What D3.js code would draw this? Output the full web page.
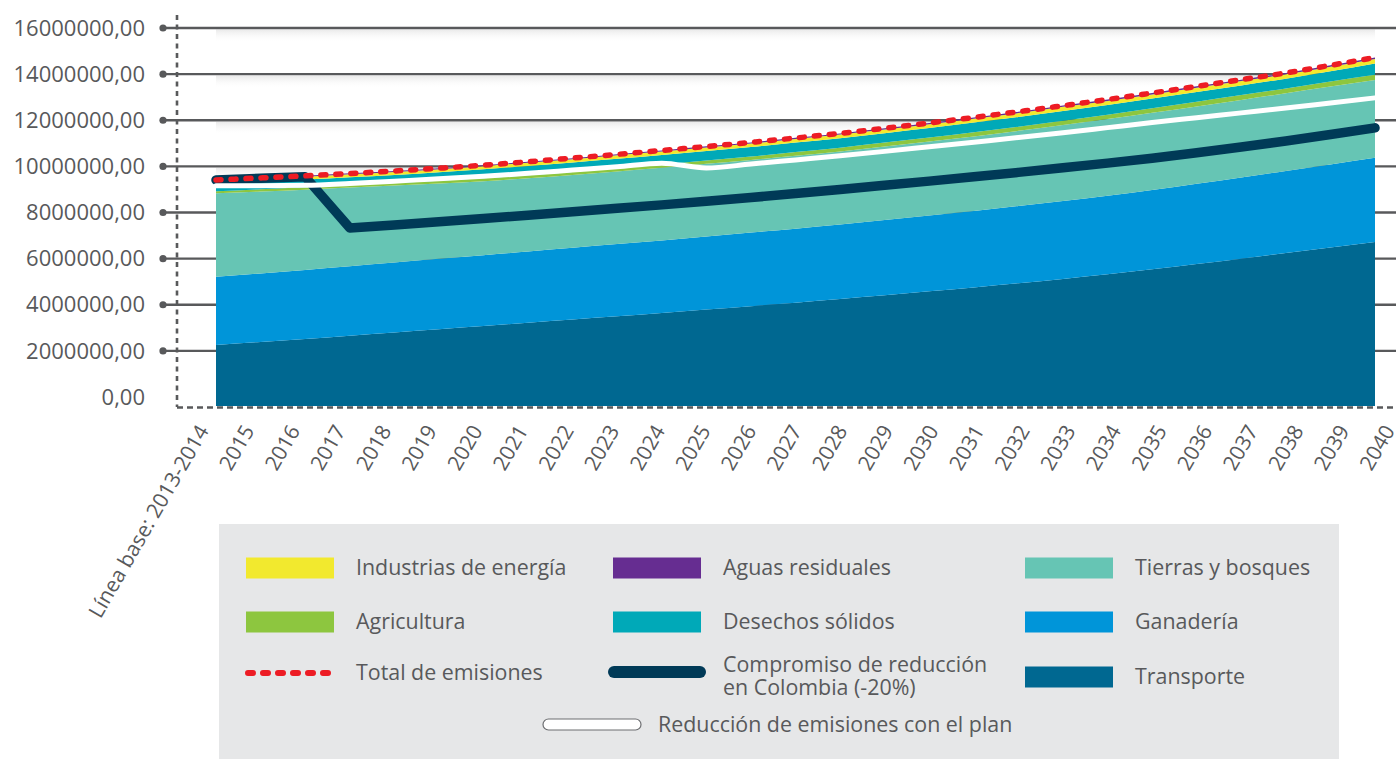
<!DOCTYPE html>
<html><head><meta charset="utf-8">
<script src="https://cdn.jsdelivr.net/npm/d3@7"></script>
<style>
html,body{margin:0;padding:0;background:#fff;}
svg{display:block;font-family:"Open Sans",sans-serif;}
</style></head><body>
<svg id="chart" width="1396" height="759"></svg>
<script>
// ---------- DATA (values in millions of tCO2e) ----------
const categories = ["Línea base: 2013-2014","2015","2016","2017","2018","2019","2020","2021","2022","2023","2024","2025","2026","2027","2028","2029","2030","2031","2032","2033","2034","2035","2036","2037","2038","2039","2040"];
const transporte  = [2.26,2.39,2.52,2.66,2.80,2.94,3.08,3.22,3.36,3.50,3.64,3.79,3.94,4.09,4.25,4.41,4.58,4.75,4.93,5.12,5.32,5.54,5.77,6.00,6.24,6.48,6.72];
const ganaderia   = [2.95,2.97,2.99,3.01,3.03,3.05,3.07,3.09,3.11,3.13,3.15,3.17,3.19,3.21,3.23,3.26,3.29,3.32,3.35,3.38,3.41,3.44,3.48,3.52,3.56,3.60,3.65];
const tierras     = [3.62,3.55,3.48,3.41,3.34,3.27,3.21,3.18,3.16,3.15,3.15,3.15,3.15,3.16,3.17,3.19,3.21,3.23,3.26,3.29,3.32,3.34,3.35,3.36,3.37,3.38,3.38];
const agricultura = [0.09,0.10,0.10,0.11,0.11,0.12,0.12,0.13,0.13,0.14,0.14,0.15,0.15,0.16,0.16,0.17,0.17,0.18,0.18,0.19,0.19,0.20,0.20,0.21,0.21,0.22,0.22];
const desechos    = [0.33,0.33,0.34,0.34,0.35,0.37,0.39,0.40,0.41,0.41,0.41,0.41,0.41,0.41,0.41,0.41,0.41,0.42,0.42,0.42,0.42,0.42,0.42,0.42,0.42,0.44,0.49];
const industrias  = [0.12,0.12,0.12,0.13,0.13,0.13,0.14,0.14,0.14,0.15,0.15,0.15,0.15,0.16,0.16,0.16,0.17,0.17,0.17,0.18,0.18,0.18,0.19,0.19,0.19,0.20,0.20];
const aguas       = [0.04,0.04,0.04,0.04,0.04,0.04,0.04,0.04,0.04,0.05,0.05,0.05,0.05,0.05,0.05,0.05,0.05,0.05,0.06,0.06,0.06,0.06,0.06,0.06,0.06,0.06,0.06];
const totalEmisiones = [9.41,9.50,9.59,9.69,9.80,9.92,10.05,10.20,10.36,10.52,10.69,10.86,11.04,11.23,11.43,11.65,11.88,12.12,12.37,12.63,12.90,13.18,13.47,13.76,14.05,14.38,14.72];
const compromiso     = [9.41,9.48,9.55,7.33,7.46,7.60,7.74,7.88,8.03,8.18,8.33,8.49,8.65,8.82,9.00,9.18,9.36,9.55,9.74,9.94,10.14,10.35,10.59,10.84,11.10,11.38,11.67];
const reduccionPlan  = [9.16,9.16,9.18,9.26,9.36,9.46,9.57,9.70,9.84,9.98,10.14,9.93,10.10,10.28,10.46,10.65,10.85,11.05,11.25,11.46,11.68,11.90,12.11,12.32,12.53,12.75,12.97];
const yTicks = [0,2000000,4000000,6000000,8000000,10000000,12000000,14000000,16000000];
const UNIT = 1e6;

// ---------- STYLE ----------
const keys = ["transporte","ganaderia","tierras","agricultura","desechos","industrias","aguas"];
const series = {transporte, ganaderia, tierras, agricultura, desechos, industrias, aguas};
const colors = {
  transporte:"#006891", ganaderia:"#0095d9", tierras:"#66c5b4", agricultura:"#8dc63f",
  desechos:"#00a9b8", industrias:"#f2e92e", aguas:"#662d91",
  total:"#ed1c24", compromiso:"#003a57", reduccion:"#ffffff"
};
const textColor = "#58595b";
const axisColor = "#58595b";
const legendFont = 21.4;

const table = categories.map((c,i) => {
  const row = {cat:c};
  keys.forEach(k => row[k] = series[k][i]*UNIT);
  row.total = totalEmisiones[i]*UNIT;
  row.compromiso = compromiso[i]*UNIT;
  row.reduccion = reduccionPlan[i]*UNIT;
  return row;
});

const svg = d3.select("#chart");
const x = d3.scalePoint().domain(categories).range([216, 1375]);
const xLab = d3.scalePoint().domain(categories).range([209.5, 1395.5]);
const y = d3.scaleLinear().domain([0, 16000000]).range([397, 28]);
const plotBottom = 406;

const fmt = d3.formatLocale({decimal:",", thousands:".", grouping:[3], currency:["",""]}).format(".2f");

// shading gradient under gridlines
const defs = svg.append("defs");
const g1 = defs.append("linearGradient").attr("id","shade").attr("x1",0).attr("x2",0).attr("y1",0).attr("y2",1);
g1.append("stop").attr("offset","0%").attr("stop-color","#e4e4e4").attr("stop-opacity",0.8);
g1.append("stop").attr("offset","100%").attr("stop-color","#ffffff").attr("stop-opacity",0);

// gridlines
const gridTicks = yTicks.filter(t => t > 0);
svg.append("g").selectAll("rect").data(gridTicks).join("rect")
  .attr("x", x.range()[0]).attr("width", x.range()[1]-x.range()[0])
  .attr("y", d => y(d)+1.5).attr("height", 13).attr("fill","url(#shade)");
svg.append("g").selectAll("line").data(gridTicks).join("line")
  .attr("x1",163).attr("x2",1396).attr("y1",d=>y(d)).attr("y2",d=>y(d))
  .attr("stroke",axisColor).attr("stroke-width",2.4);
svg.append("g").selectAll("circle").data(gridTicks).join("circle")
  .attr("cx",163).attr("cy",d=>y(d)).attr("r",3.6).attr("fill",axisColor);

// y labels
svg.append("g").selectAll("text").data(yTicks).join("text")
  .attr("x",145).attr("y",d=>y(d)).attr("dy","0.35em").attr("text-anchor","end")
  .attr("font-size",22).attr("fill",textColor).text(d=>fmt(d));

// stacked areas
const stacked = d3.stack().keys(keys)(table);
const area = d3.area()
  .x(d => x(d.data.cat))
  .y0(d => d[0] === 0 ? plotBottom : y(d[0]))
  .y1(d => y(d[1]))
  .curve(d3.curveMonotoneX);
svg.append("g").selectAll("path").data(stacked).join("path")
  .attr("d", area).attr("fill", d => colors[d.key]);

// dashed axes
svg.append("line").attr("x1",177).attr("x2",177).attr("y1",15).attr("y2",407)
  .attr("stroke",axisColor).attr("stroke-width",2.6).attr("stroke-dasharray","5,4.5");
svg.append("line").attr("x1",177).attr("x2",1396).attr("y1",407.5).attr("y2",407.5)
  .attr("stroke",axisColor).attr("stroke-width",2.4).attr("stroke-dasharray","6,4");

// lines
const lineOf = (key, curve) => d3.line().x(d => x(d.cat)).y(d => y(d[key])).curve(curve);
svg.append("path").datum(table).attr("d", lineOf("compromiso", d3.curveLinear))
  .attr("fill","none").attr("stroke",colors.compromiso).attr("stroke-width",9.5)
  .attr("stroke-linecap","round").attr("stroke-linejoin","round");
svg.append("path").datum(table).attr("d", lineOf("reduccion", d3.curveMonotoneX))
  .attr("fill","none").attr("stroke",colors.reduccion).attr("stroke-width",5)
  .attr("stroke-linecap","round").attr("stroke-linejoin","round");
svg.append("path").datum(table).attr("d", lineOf("total", d3.curveMonotoneX))
  .attr("fill","none").attr("stroke",colors.total).attr("stroke-width",5.5)
  .attr("stroke-dasharray","5,10").attr("stroke-linecap","round");

// x labels
svg.append("g").selectAll("text").data(categories).join("text")
  .attr("transform", d => `translate(${xLab(d)},430.5) rotate(-60)`)
  .attr("text-anchor","end").attr("font-size",21).attr("fill",textColor).text(d=>d);

// legend
const lg = svg.append("g");
lg.append("rect").attr("x",219).attr("y",524).attr("width",1120).attr("height",240).attr("fill","#e6e7e8");
const swatchX = [246, 613, 1025], textX = [356, 723, 1135], rowY = [568, 622, 677];
const legendItems = [
  {key:"industrias", label:"Industrias de energía", col:0, row:0},
  {key:"aguas", label:"Aguas residuales", col:1, row:0},
  {key:"tierras", label:"Tierras y bosques", col:2, row:0},
  {key:"agricultura", label:"Agricultura", col:0, row:1},
  {key:"desechos", label:"Desechos sólidos", col:1, row:1},
  {key:"ganaderia", label:"Ganadería", col:2, row:1},
  {key:"transporte", label:"Transporte", col:2, row:2}
];
legendItems.forEach(it => {
  lg.append("rect").attr("x",swatchX[it.col]).attr("y",rowY[it.row]-10.5).attr("width",88).attr("height",21).attr("fill",colors[it.key]);
  lg.append("text").attr("x",textX[it.col]).attr("y",rowY[it.row]).attr("dy","0.35em")
    .attr("font-size",legendFont).attr("fill",textColor).text(it.label);
});
// total
lg.append("line").attr("x1",248).attr("x2",332).attr("y1",673).attr("y2",673)
  .attr("stroke",colors.total).attr("stroke-width",6).attr("stroke-dasharray","5,10").attr("stroke-linecap","round");
lg.append("text").attr("x",356).attr("y",673).attr("dy","0.35em").attr("font-size",legendFont).attr("fill",textColor).text("Total de emisiones");
// compromiso
lg.append("rect").attr("x",608).attr("y",666).attr("width",98).attr("height",12).attr("rx",6).attr("fill",colors.compromiso);
const ct = lg.append("text").attr("font-size",legendFont).attr("fill",textColor);
ct.append("tspan").attr("x",723).attr("y",665).attr("dy","0.35em").text("Compromiso de reducción");
ct.append("tspan").attr("x",723).attr("y",688).attr("dy","0.35em").text("en Colombia (-20%)");
// reduccion
lg.append("rect").attr("x",543).attr("y",719).attr("width",98).attr("height",11).attr("rx",5.5)
  .attr("fill","#fff").attr("stroke","#6d6e71").attr("stroke-width",1.2);
lg.append("text").attr("x",658).attr("y",725).attr("dy","0.35em").attr("font-size",legendFont).attr("fill",textColor).text("Reducción de emisiones con el plan");
</script>
</body></html>
